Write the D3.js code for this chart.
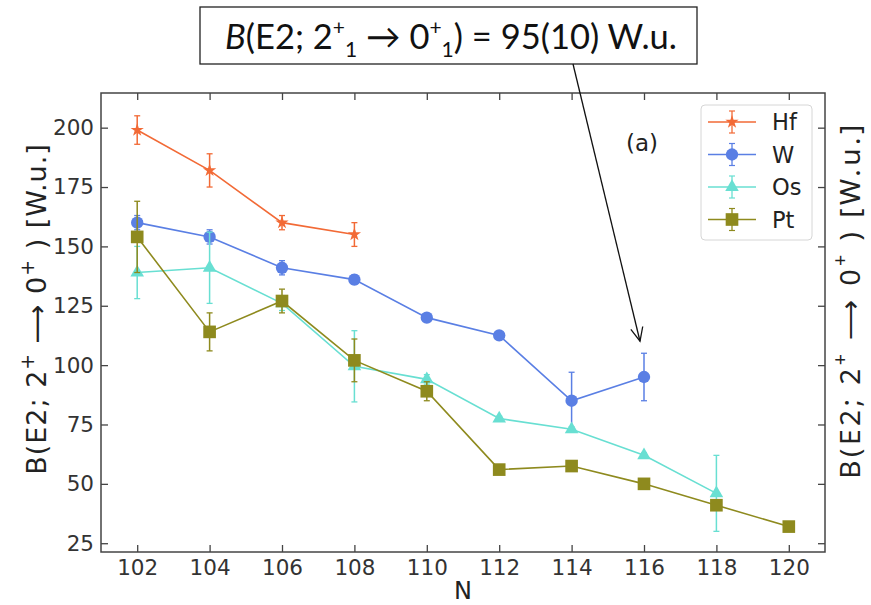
<!DOCTYPE html>
<html>
<head>
<meta charset="utf-8">
<script src="https://cdn.jsdelivr.net/npm/d3@7"></script>
<style>
  body { margin: 0; background: #fff; }
  svg { display: block; }
</style>
</head>
<body>
<script>
const w = 871;
const h = 605;

// data
const nValues = [102, 104, 106, 108, 110, 112, 114, 116, 118, 120];
const hfN = [102, 104, 106, 108];
const hfVal = [199, 182, 160, 155];
const hfErr = [6, 7, 3, 5];
const wN = [102, 104, 106, 108, 110, 112, 114, 116];
const wVal = [160, 154, 141, 136, 120, 112.5, 85, 95];
const wErr = [3, 3, 3, 2, 1, 1, 12, 10];
const osN = [102, 104, 106, 108, 110, 112, 114, 116, 118];
const osVal = [139, 141, 126, 99.5, 94, 77.5, 73, 62, 46];
const osErr = [11, 15, 3, 15, 2, 1, 1, 1, 16];
const ptN = [102, 104, 106, 108, 110, 112, 114, 116, 118, 120];
const ptVal = [154, 114, 127, 102, 89, 56, 57.5, 50, 41, 32];
const ptErr = [15, 8, 5, 9, 4, 2, 1, 1, 1, 1];
const yTicks = [25, 50, 75, 100, 125, 150, 175, 200];
const legendNames = ["Hf", "W", "Os", "Pt"];

const series = [
  {name: "Hf", n: hfN, v: hfVal, e: hfErr, color: "#f26a36", sym: d3.symbolStar, size: 55},
  {name: "W", n: wN, v: wVal, e: wErr, color: "#5a7fe4", sym: d3.symbolCircle, size: 120},
  {name: "Os", n: osN, v: osVal, e: osErr, color: "#68dfd2", sym: d3.symbolTriangle, size: 80},
  {name: "Pt", n: ptN, v: ptVal, e: ptErr, color: "#8e8a1e", sym: d3.symbolSquare, size: 160}
];

const svg = d3.select("body")
    .append("svg")
    .attr("width", w)
    .attr("height", h);

const pLeft = 101, pRight = 825, pTop = 93, pBottom = 552;

const x = d3.scaleLinear().domain([101, 121]).range([pLeft, pRight]);
const y = d3.scaleLinear().domain([21.3, 214.6]).range([pBottom, pTop]);

// axes, ticks pointing inward on all four sides
const axisStyle = (g) => {
  g.selectAll("path").remove();
  g.selectAll("line").attr("stroke", "#444").attr("stroke-width", 1.3);
  g.selectAll("text").attr("fill", "#333")
    .style("font-family", "DejaVu Sans").style("font-size", "21.5px");
};

svg.append("g")
    .attr("transform", "translate(0," + pBottom + ")")
    .call(d3.axisBottom(x).tickValues(nValues).tickSizeInner(-7).tickSizeOuter(0).tickPadding(8))
    .call(axisStyle);
svg.append("g")
    .attr("transform", "translate(0," + pTop + ")")
    .call(d3.axisTop(x).tickValues(nValues).tickSizeInner(-7).tickSizeOuter(0).tickFormat(""))
    .call(axisStyle);
svg.append("g")
    .attr("transform", "translate(" + pLeft + ",0)")
    .call(d3.axisLeft(y).tickValues(yTicks).tickSizeInner(-7).tickSizeOuter(0).tickPadding(7))
    .call(axisStyle);
svg.append("g")
    .attr("transform", "translate(" + pRight + ",0)")
    .call(d3.axisRight(y).tickValues(yTicks).tickSizeInner(-7).tickSizeOuter(0).tickFormat(""))
    .call(axisStyle);

svg.append("rect")
    .attr("x", pLeft).attr("y", pTop)
    .attr("width", pRight - pLeft).attr("height", pBottom - pTop)
    .attr("fill", "none").attr("stroke", "#444").attr("stroke-width", 1.5);

// series
const line = d3.line().x((d) => x(d.n)).y((d) => y(d.v));

series.forEach((s) => {
  const pts = s.n.map((n, i) => ({n: n, v: s.v[i], e: s.e[i]}));
  const g = svg.append("g");
  g.append("path")
      .datum(pts)
      .attr("d", line)
      .attr("fill", "none")
      .attr("stroke", s.color)
      .attr("stroke-width", 1.6);
  const eb = g.selectAll(".eb").data(pts).enter().append("g").attr("class", "eb");
  eb.append("line")
      .attr("x1", (d) => x(d.n)).attr("x2", (d) => x(d.n))
      .attr("y1", (d) => y(d.v - d.e)).attr("y2", (d) => y(d.v + d.e))
      .attr("stroke", s.color).attr("stroke-width", 1.5);
  [-1, 1].forEach((k) => {
    eb.append("line")
        .attr("x1", (d) => x(d.n) - 3).attr("x2", (d) => x(d.n) + 3)
        .attr("y1", (d) => y(d.v + k * d.e)).attr("y2", (d) => y(d.v + k * d.e))
        .attr("stroke", s.color).attr("stroke-width", 1.3);
  });
  g.selectAll(".mk").data(pts).enter().append("path")
      .attr("class", "mk")
      .attr("d", d3.symbol().type(s.sym).size(s.size))
      .attr("transform", (d) => "translate(" + x(d.n) + "," + y(d.v) + ")")
      .attr("fill", s.color);
});

// legend
const lg = svg.append("g");
lg.append("rect")
    .attr("x", 701).attr("y", 105).attr("width", 111).attr("height", 135)
    .attr("rx", 4)
    .attr("fill", "#fff").attr("fill-opacity", 0.85)
    .attr("stroke", "#d6d6d6");
legendNames.forEach((name, i) => {
  const s = series[i];
  const ly = 122 + i * 32.5;
  lg.append("line").attr("x1", 708).attr("x2", 756).attr("y1", ly).attr("y2", ly)
      .attr("stroke", s.color).attr("stroke-width", 1.6);
  lg.append("line").attr("x1", 732).attr("x2", 732).attr("y1", ly - 11).attr("y2", ly + 11)
      .attr("stroke", s.color).attr("stroke-width", 1.3);
  [-11, 11].forEach((k) => {
    lg.append("line").attr("x1", 729).attr("x2", 735).attr("y1", ly + k).attr("y2", ly + k)
        .attr("stroke", s.color).attr("stroke-width", 1.2);
  });
  lg.append("path")
      .attr("d", d3.symbol().type(s.sym).size(s.size))
      .attr("transform", "translate(732," + ly + ")")
      .attr("fill", s.color);
  lg.append("text").attr("x", 772).attr("y", ly + 8)
      .attr("fill", "#222")
      .style("font-family", "DejaVu Sans").style("font-size", "22.5px")
      .text(name);
});

// panel tag
svg.append("text").attr("x", 626).attr("y", 151)
    .attr("fill", "#222")
    .style("font-family", "DejaVu Sans").style("font-size", "23px")
    .text("(a)");

// axis titles
svg.append("text")
    .attr("x", 463).attr("y", 599)
    .attr("text-anchor", "middle")
    .attr("fill", "#222")
    .style("font-family", "DejaVu Sans").style("font-size", "24px")
    .text("N");

function yTitle(xPos, yPos, font, size, spacing) {
  const t = svg.append("text")
      .attr("transform", "translate(" + xPos + "," + yPos + ") rotate(-90)")
      .attr("text-anchor", "middle")
      .attr("fill", "#222")
      .style("letter-spacing", spacing + "px")
      .style("font-family", font).style("font-size", size + "px");
  t.append("tspan").text("B(E2; 2");
  t.append("tspan").attr("dy", -size * 0.45).style("font-size", (size * 0.7) + "px").text("+");
  t.append("tspan").attr("dy", size * 0.45).text(" \u27F6 0");
  t.append("tspan").attr("dy", -size * 0.45).style("font-size", (size * 0.7) + "px").text("+");
  t.append("tspan").attr("dy", size * 0.45).text(" ) [W.u.]");
}
yTitle(46, 309, "DejaVu Sans", 27, 1);
yTitle(860, 300, "Noto Sans", 28, 3.5);

// annotation box and arrow
svg.append("rect")
    .attr("x", 200).attr("y", 7).attr("width", 497).attr("height", 57)
    .attr("fill", "#fff").attr("stroke", "#222").attr("stroke-width", 1.3);

const at = svg.append("text")
    .attr("x", 451).attr("y", 49)
    .attr("text-anchor", "middle")
    .attr("fill", "#111")
    .style("font-family", "Lato").style("font-size", "34.5px");
at.append("tspan").style("font-style", "italic").text("B");
at.append("tspan").text("(E2; 2");
at.append("tspan").attr("dy", -14).style("font-size", "21px").text("+");
at.append("tspan").attr("dy", 22).style("font-size", "21px").text("1");
at.append("tspan").attr("dy", -8).text(" \u2192 0");
at.append("tspan").attr("dy", -14).style("font-size", "21px").text("+");
at.append("tspan").attr("dy", 22).style("font-size", "21px").text("1");
at.append("tspan").attr("dy", -8).text(") = 95(10) W.u.");

// arrow pointing at the W, N=116 point
const tipX = x(116) - 4, tipY = y(wVal[7] + wErr[7]) - 12;
const x0 = 573, y0 = 64;
svg.append("line")
    .attr("x1", x0).attr("y1", y0).attr("x2", tipX).attr("y2", tipY)
    .attr("stroke", "#111").attr("stroke-width", 1.3);
const ang = Math.atan2(tipY - y0, tipX - x0);
const headLen = 15, spread = 0.42;
const head = [
  [tipX - headLen * Math.cos(ang - spread), tipY - headLen * Math.sin(ang - spread)],
  [tipX, tipY],
  [tipX - headLen * Math.cos(ang + spread), tipY - headLen * Math.sin(ang + spread)]
];
svg.append("path")
    .attr("d", d3.line()(head))
    .attr("fill", "none").attr("stroke", "#111").attr("stroke-width", 1.3);
</script>
</body>
</html>
